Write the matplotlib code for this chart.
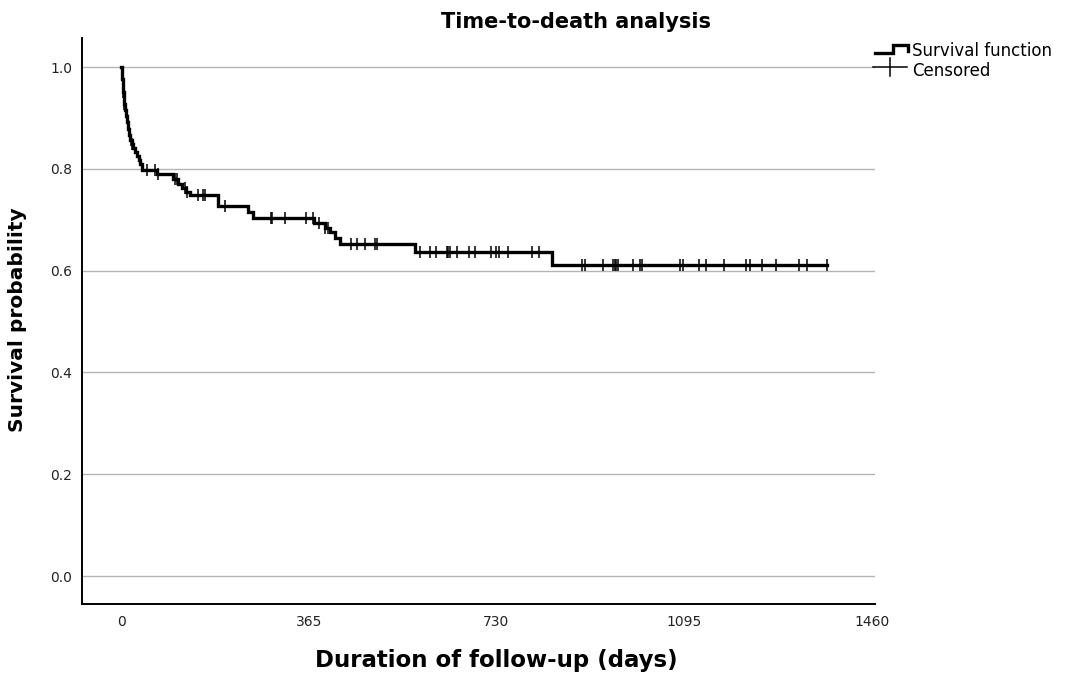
#!/usr/bin/env python

import numpy as np
import matplotlib
matplotlib.use('Agg')
import matplotlib.pyplot as plt
from matplotlib.lines import Line2D

# Kaplan-Meier step curve: day of each event and survival after it
event_days = [0, 1, 2, 3, 4, 5, 6, 8, 10, 12, 14, 16, 18, 21, 24, 27, 31, 34,
              37, 41, 70, 101, 110, 118, 126, 134, 188, 247, 257, 375, 396,
              406, 416, 426, 572, 838]
survival = [1.0, 0.988, 0.976, 0.963, 0.951, 0.939, 0.927, 0.915, 0.903,
            0.891, 0.879, 0.867, 0.857, 0.848, 0.840, 0.833, 0.825, 0.817,
            0.809, 0.797, 0.789, 0.780, 0.770, 0.762, 0.755, 0.748, 0.727,
            0.715, 0.703, 0.693, 0.684, 0.675, 0.664, 0.652, 0.636, 0.611]
last_day = 1373

# censored observations (days)
censored_days = [3.5, 4.5, 6.5, 17, 19, 22, 50, 66, 72, 105, 109, 124, 128,
                 150, 159, 163, 202, 291, 294, 319, 360, 374, 385, 397, 402,
                 448, 458, 474, 494, 497, 581, 601, 612, 633, 636, 640, 653,
                 677, 688, 720, 730, 735, 753, 799, 812, 896, 902, 938, 957,
                 960, 963, 966, 996, 1009, 1012, 1087, 1092, 1124, 1137, 1172,
                 1216, 1223, 1247, 1273, 1318, 1334, 1373]

x_ticks = [0, 365, 730, 1095, 1460]
y_ticks = [0.0, 0.2, 0.4, 0.6, 0.8, 1.0]

W, H = 1067, 674
fig = plt.figure(figsize=(W / 100, H / 100), dpi=100, facecolor='white')
ax = fig.add_axes([82 / W, 1 - 604 / H, (875 - 82) / W, (604 - 38) / H])

# step curve
xs = list(event_days) + [last_day]
ys = list(survival) + [survival[-1]]
ax.step(xs, ys, where='post', color='black', lw=2.4, zorder=3,
        solid_joinstyle='miter')

# censor marks sit on the curve
cens_y = [survival[np.searchsorted(event_days, d, side='right') - 1]
          for d in censored_days]
ax.plot(censored_days, cens_y, ls='none', marker='|', color='black',
        ms=9, mew=1.1, zorder=4)

ax.set_xlim(-76, 1466)
ax.set_ylim(-0.055, 1.057)
ax.set_xticks(x_ticks)
ax.set_xticklabels([str(t) for t in x_ticks])
ax.set_yticks(y_ticks)
ax.set_yticklabels(['%.1f' % t for t in y_ticks])
ax.tick_params(length=0, labelsize=10, colors='#222222')
ax.tick_params(axis='y', pad=7)
ax.tick_params(axis='x', pad=8)
ax.yaxis.grid(True, color='#b4b4b4', lw=1.0)
ax.set_axisbelow(True)
for side in ['top', 'right']:
    ax.spines[side].set_visible(False)
for side in ['left', 'bottom']:
    ax.spines[side].set_linewidth(1.4)

fig.text(576 / W, 1 - 22 / H, 'Time-to-death analysis', ha='center',
         va='center', fontsize=15, fontweight='bold')
fig.text(496 / W, 1 - 661 / H, 'Duration of follow-up (days)', ha='center',
         va='center', fontsize=16.5, fontweight='bold')
fig.text(18 / W, 1 - 320 / H, 'Survival probability', ha='center',
         va='center', rotation=90, fontsize=14.5, fontweight='bold')

# legend drawn by hand
step_x = [875, 893, 893, 908, 908]
step_y = [53, 53, 45, 45, 51]
fig.add_artist(Line2D([v / W for v in step_x], [1 - v / H for v in step_y],
                      transform=fig.transFigure, color='black', lw=2.4,
                      solid_joinstyle='miter'))
fig.add_artist(Line2D([873 / W, 907 / W], [1 - 67 / H, 1 - 67 / H],
                      transform=fig.transFigure, color='black', lw=1.1))
fig.add_artist(Line2D([890 / W, 890 / W], [1 - 58 / H, 1 - 76 / H],
                      transform=fig.transFigure, color='black', lw=1.1))
fig.text(912 / W, 1 - 51 / H, 'Survival function', ha='left', va='center',
         fontsize=12)
fig.text(912 / W, 1 - 71 / H, 'Censored', ha='left', va='center',
         fontsize=12)

fig.savefig('out.png', dpi=100, facecolor='white')
